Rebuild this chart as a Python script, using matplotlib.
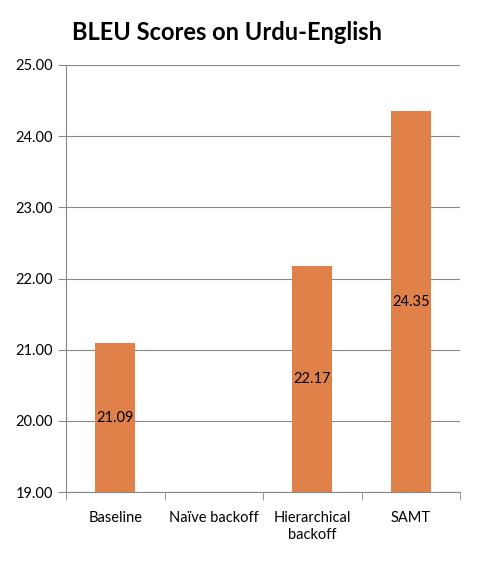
import matplotlib
matplotlib.use("Agg")
import matplotlib.pyplot as plt
import numpy as np

categories = ["Baseline", "Naïve backoff", "Hierarchical\nbackoff", "SAMT"]
values = [21.09, np.nan, 22.17, 24.35]
yticks = [19, 20, 21, 22, 23, 24, 25]

plt.rcParams['font.family'] = ['Lato', 'DejaVu Sans']
fig = plt.figure(figsize=(4.78, 5.63), dpi=100)
ax = fig.add_axes([66/478, 1-492/563, 394/478, 427/563])
x = np.arange(len(categories))
ax.bar(x, values, width=0.41, color='#DF8149', zorder=3)
for xi, v in zip(x, values):
    if not np.isnan(v):
        ax.text(xi, (19 + v) / 2, f"{v:.2f}", ha='center', va='center', fontsize=10.5, zorder=4)
ax.set_xlim(-0.5, len(categories) - 0.5)
ax.set_ylim(19, 25)
ax.set_yticks(yticks)
ax.set_yticklabels([f"{t:.2f}" for t in yticks], fontsize=10.5)
ax.yaxis.grid(True, color='#888888', linewidth=0.8, zorder=0)
ax.set_xticks(x)
ax.set_xticklabels(categories, fontsize=10.5)
ax.tick_params(axis='x', length=0, pad=14)
ax.set_xticks(np.arange(-0.5, len(categories)), minor=True)
ax.tick_params(axis='x', which='minor', length=6, color='#888888')
ax.tick_params(axis='y', length=6, color='#888888', direction='out')
for s in ['top', 'right']:
    ax.spines[s].set_visible(False)
for s in ['left', 'bottom']:
    ax.spines[s].set_color('#888888')
fig.text(72/478, 1-33/563, "BLEU Scores on Urdu-English", fontsize=17, fontweight='bold', va='center', ha='left')
fig.savefig("out.png", dpi=100)
